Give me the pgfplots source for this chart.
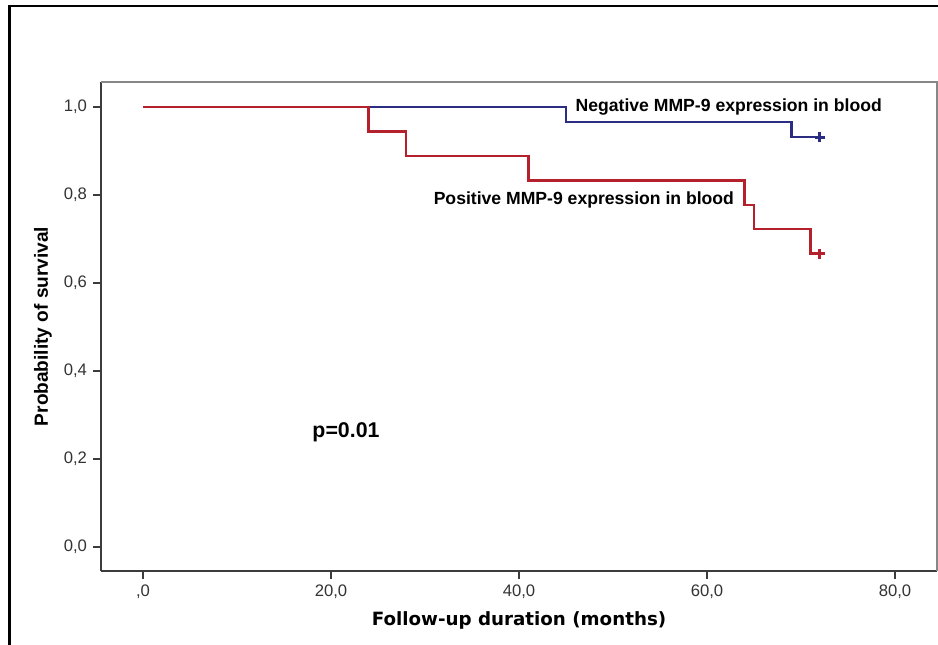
\documentclass[border=0pt]{standalone}
\usepackage{pgfplots}
\pgfplotsset{compat=1.18}
\usepackage{fontspec}
\setmainfont{Liberation Sans}
\newfontfamily\dejavu{DejaVu Sans}
\definecolor{negblue}{RGB}{43,45,130}
\definecolor{posred}{RGB}{180,32,44}
\definecolor{axgray}{RGB}{135,135,135}
\definecolor{axdark}{RGB}{60,60,60}
\begin{document}
\begin{tikzpicture}
\useasboundingbox (0pt,0pt) rectangle (703.5pt,483.75pt);
\draw[line width=2pt] (7.125pt,0pt) -- (7.125pt,479.25pt) -- (703.5pt,479.25pt);
\begin{axis}[
  at={(75.75pt,55.5pt)}, anchor=south west,
  scale only axis, width=627pt, height=366.75pt,
  xmin=-4.47, xmax=84.47, ymin=-0.0545, ymax=1.0568,
  axis lines*=left,
  axis line style={line width=1pt, axdark},
  tick align=outside,
  major tick length=6pt,
  tick style={line width=1pt, axdark},
  xtick={0,20,40,60,80},
  xticklabels={{,0},{20,0},{40,0},{60,0},{80,0}},
  ytick={0,0.2,0.4,0.6,0.8,1.0},
  yticklabels={{0,0},{0,2},{0,4},{0,6},{0,8},{1,0}},
  tick label style={font=\fontsize{12.5}{14}\selectfont, text=black!80},
  xticklabel style={yshift=-1pt},
  yticklabel style={xshift=-1pt},
  xlabel={Follow-up duration (months)},
  ylabel={Probability of survival},
  xlabel style={font=\dejavu\bfseries\fontsize{13.7}{16}\selectfont, at={(axis description cs:0.5,-0.1002)}, anchor=center},
  ylabel style={font=\bfseries\fontsize{14.3}{16}\selectfont, at={(axis description cs:-0.0694,0.5)}, anchor=center},
  clip=false,
]
\addplot[const plot, negblue, line width=1.7pt] coordinates {(0,1) (45,0.9655) (69,0.931) (72,0.931)};
\addplot[const plot, posred, line width=1.7pt] coordinates {(0,1) (24,0.944) (28,0.889) (41,0.833) (64,0.778) (65,0.722) (71,0.667) (72,0.667)};
\addplot[only marks, mark=+, mark size=3.75pt, negblue, mark options={line width=2.3pt}] coordinates {(72,0.931)};
\addplot[only marks, mark=+, mark size=3.75pt, posred, mark options={line width=2.3pt}] coordinates {(72,0.667)};
\draw[axgray, line width=1pt] (rel axis cs:0,1) -- (rel axis cs:1,1) -- (rel axis cs:1,0);
\node[anchor=west, font=\bfseries\fontsize{13.2}{15}\selectfont, inner sep=0pt] at (axis cs:46,1.0) {Negative MMP-9 expression in blood};
\node[anchor=east, font=\bfseries\fontsize{13.2}{15}\selectfont, inner sep=0pt] at (axis cs:62.9,0.789) {Positive MMP-9 expression in blood};
\node[anchor=west, font=\bfseries\fontsize{16}{18}\selectfont, inner sep=0pt] at (axis cs:18.0,0.261) {p=0.01};
\end{axis}
\end{tikzpicture}
\end{document}
